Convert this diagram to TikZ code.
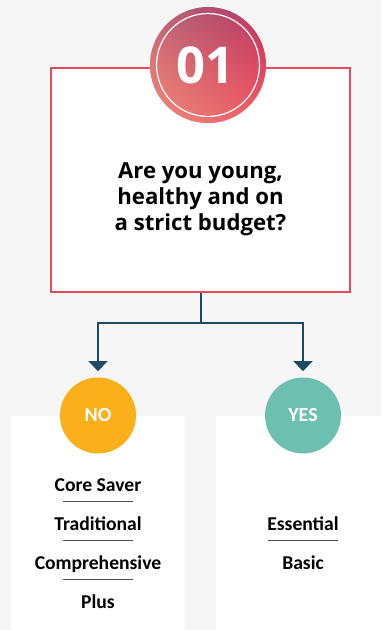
\documentclass[tikz,border=0pt]{standalone}
\usepackage{fontspec}
\setmainfont{Carlito}
\newfontfamily\opensans{Open Sans}
\usetikzlibrary{positioning,arrows.meta,fadings}

\definecolor{bgGray}{HTML}{F6F6F6}
\definecolor{boxRed}{HTML}{E8495F}
\definecolor{flowBlue}{HTML}{1F4A64}
\definecolor{noOrange}{HTML}{FBAF1A}
\definecolor{yesGreen}{HTML}{6DBFAF}
\definecolor{sepGray}{HTML}{4D4D4D}
\definecolor{badgePurple}{HTML}{9E4A72}
\definecolor{badgePink}{HTML}{D04A68}
\definecolor{badgeSalmon}{HTML}{F2897A}
\definecolor{badgeRed}{HTML}{E43A58}

\tikzset{
	answer/.style={circle, minimum size=57pt, inner sep=0pt, text=white, font=\bfseries\fontsize{15}{15}\selectfont},
	item/.style={font=\bfseries\fontsize{14.7}{16}\selectfont, text height=10.5pt, text depth=3.5pt, inner sep=0pt},
	sepline/.style={draw=sepGray, line width=0.75pt},
	flow/.style={draw=flowBlue, line width=1.5pt},
	badgedisc/.style={circle, minimum size=87pt, inner sep=0pt}
}

\begin{document}
\begin{tikzpicture}[x=0.75pt, y=-0.75pt, >={Triangle[width=14pt,length=7.5pt]}, node distance=29.25pt]
	\useasboundingbox[fill=bgGray] (0,0) rectangle (381,630);
	\fill[white] (11,416) rectangle (185,630);
	\fill[white] (216,416) rectangle (381,630);

	\node[draw=boxRed, line width=1.5pt, fill=white, minimum width=224.25pt, minimum height=168pt] (question) at (200.5,180) {};
	\node[align=center, font=\opensans\bfseries\fontsize{16.6}{19.5}\selectfont] (questionText) at (200.5,199) {Are you young,\\healthy and on\\a strict budget?};

	% number badge
	\node[badgedisc, top color=badgePurple, middle color=badgePink, bottom color=badgeRed, shading angle=45] (badge) at (208,65) {};
	\node[badgedisc, fill=badgeSalmon, opacity=.85, path fading=south, fading angle=135] (badgeGlow) at (badge) {};
	\draw[white, line width=0.9pt] (badge.center) circle[radius=38.6pt];
	\node[text=white, font=\opensans\bfseries\fontsize{38}{38}\selectfont, inner sep=0pt] (badgeNum) at (205,65) {01};

	\node[answer, fill=noOrange] (no) at (98,415.5) {NO};
	\node[answer, fill=yesGreen] (yes) at (303,415.5) {YES};

	\coordinate (junction) at (200.5,323);
	\draw[flow] (question.south) -- (junction);
	\draw[flow, ->, shorten >=4.5pt] (junction) -| (no.north);
	\draw[flow, ->, shorten >=4.5pt] (junction) -| (yes.north);

	\node[item] (coreSaver) at (98,487.3) {Core Saver};
	\node[item, below of=coreSaver] (traditional) {Traditional};
	\node[item, below of=traditional] (comprehensive) {Comprehensive};
	\node[item, below of=comprehensive] (plus) {Plus};
	\draw[sepline] ([xshift=-26.25pt,yshift=-11pt]coreSaver.center) -- ([xshift=26.25pt,yshift=-11pt]coreSaver.center);
	\draw[sepline] ([xshift=-26.25pt,yshift=-11pt]traditional.center) -- ([xshift=26.25pt,yshift=-11pt]traditional.center);
	\draw[sepline] ([xshift=-26.25pt,yshift=-11pt]comprehensive.center) -- ([xshift=26.25pt,yshift=-11pt]comprehensive.center);

	\node[item] (essential) at (303,526.3) {Essential};
	\node[item, below of=essential] (basic) {Basic};
	\draw[sepline] ([xshift=-26.25pt,yshift=-11pt]essential.center) -- ([xshift=26.25pt,yshift=-11pt]essential.center);
\end{tikzpicture}
\end{document}
